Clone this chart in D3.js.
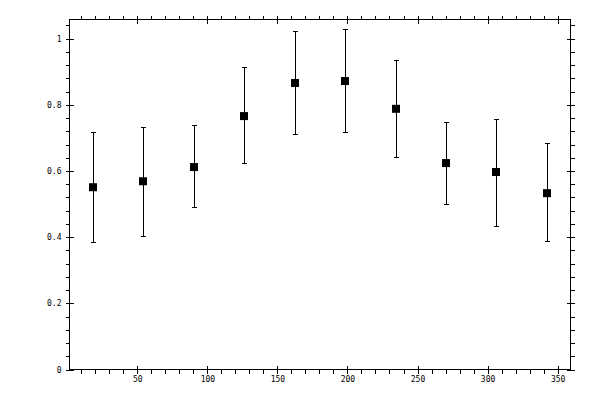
<!DOCTYPE html>
<html>
<head>
<meta charset="utf-8">
<script src="https://cdn.jsdelivr.net/npm/d3@7"></script>
<style>
  body { margin: 0; background: #fff; }
  .tick text { font-family: "DejaVu Sans Mono", monospace; font-size: 8px; fill: #000; }
</style>
</head>
<body>
<div id="chart"></div>
<script>
// Data
let xValues = [18, 54, 90, 126, 162, 198, 234, 270, 306, 342];
let yValues = [0.551, 0.569, 0.612, 0.766, 0.866, 0.872, 0.788, 0.624, 0.597, 0.533];
let yHigh = [0.717, 0.733, 0.737, 0.912, 1.021, 1.027, 0.933, 0.748, 0.757, 0.682];
let yLow = [0.385, 0.403, 0.491, 0.624, 0.709, 0.715, 0.640, 0.500, 0.433, 0.388];

let xMajor = [50, 100, 150, 200, 250, 300, 350];
let yMajor = [0, 0.2, 0.4, 0.6, 0.8, 1];
let yTickLabels = ['0', '0.2', '0.4', '0.6', '0.8', '1'];

// minor ticks every 10 on x, every 0.04 on y
let xMinor = d3.range(10, 360, 10).filter(v => v % 50 !== 0);
let yMinor = d3.range(1, 27).map(i => +(i * 0.04).toFixed(2)).filter(v => Math.abs(v * 5 - Math.round(v * 5)) > 1e-6);

// Set up SVG
let svgWidth = 600;
let svgHeight = 400;

let margin = { top: 19.5, right: 29.5, bottom: 30.5, left: 69.5 };
let width = svgWidth - margin.left - margin.right;
let height = svgHeight - margin.top - margin.bottom;

let svg = d3.select('#chart').append('svg')
  .attr('width', svgWidth)
  .attr('height', svgHeight);

let chartGroup = svg.append('g')
  .attr('transform', `translate(${margin.left}, ${margin.top})`);

// scales
let xScale = d3.scaleLinear().domain([1.6, 359.2]).range([0, width]);
let yScale = d3.scaleLinear().domain([0, 1.058]).range([height, 0]);

// frame
chartGroup.append('rect')
  .attr('width', width)
  .attr('height', height)
  .attr('fill', 'none')
  .attr('stroke', '#000')
  .attr('stroke-width', 1);

function styleAxis(g) {
  g.select('.domain').remove();
  g.selectAll('.tick line').attr('stroke', '#000').attr('shape-rendering', 'crispEdges');
}

let yLabel = d => yTickLabels[yMajor.indexOf(d)];

// bottom axis: outward ticks with labels, inward majors
chartGroup.append('g')
  .attr('transform', `translate(0, ${height})`)
  .call(d3.axisBottom(xScale).tickValues(xMajor.concat(xMinor)).tickSize(4).tickPadding(3)
    .tickFormat(d => xMajor.includes(d) ? d : ''))
  .call(styleAxis);
chartGroup.append('g')
  .attr('transform', `translate(0, ${height})`)
  .call(d3.axisTop(xScale).tickValues(xMajor).tickSize(4).tickFormat(''))
  .call(styleAxis);

// top axis
chartGroup.append('g')
  .call(d3.axisTop(xScale).tickValues(xMajor.concat(xMinor)).tickSize(4).tickFormat(''))
  .call(styleAxis);
chartGroup.append('g')
  .call(d3.axisBottom(xScale).tickValues(xMajor).tickSize(4).tickFormat(''))
  .call(styleAxis);

// left axis
chartGroup.append('g')
  .call(d3.axisLeft(yScale).tickValues(yMajor.concat(yMinor)).tickSize(4).tickPadding(4)
    .tickFormat(d => yMajor.includes(d) ? yLabel(d) : ''))
  .call(styleAxis);
chartGroup.append('g')
  .call(d3.axisRight(yScale).tickValues(yMajor).tickSize(4).tickFormat(''))
  .call(styleAxis);

// right axis
chartGroup.append('g')
  .attr('transform', `translate(${width}, 0)`)
  .call(d3.axisRight(yScale).tickValues(yMajor.concat(yMinor)).tickSize(4).tickFormat(''))
  .call(styleAxis);
chartGroup.append('g')
  .attr('transform', `translate(${width}, 0)`)
  .call(d3.axisLeft(yScale).tickValues(yMajor).tickSize(4).tickFormat(''))
  .call(styleAxis);

// error bars
let points = xValues.map((x, i) => ({ x: x, y: yValues[i], hi: yHigh[i], lo: yLow[i] }));
let capHalf = 2.5;

let bars = chartGroup.selectAll('.errbar')
  .data(points)
  .enter()
  .append('g')
  .classed('errbar', true)
  .attr('stroke', '#000')
  .attr('stroke-width', 1)
  .attr('shape-rendering', 'crispEdges');

bars.append('line')
  .attr('x1', d => Math.round(xScale(d.x)) + 0.5)
  .attr('x2', d => Math.round(xScale(d.x)) + 0.5)
  .attr('y1', d => yScale(d.hi))
  .attr('y2', d => yScale(d.lo));

bars.append('line')
  .attr('x1', d => Math.round(xScale(d.x)) + 0.5 - capHalf)
  .attr('x2', d => Math.round(xScale(d.x)) + 0.5 + capHalf)
  .attr('y1', d => yScale(d.hi))
  .attr('y2', d => yScale(d.hi));

bars.append('line')
  .attr('x1', d => Math.round(xScale(d.x)) + 0.5 - capHalf)
  .attr('x2', d => Math.round(xScale(d.x)) + 0.5 + capHalf)
  .attr('y1', d => yScale(d.lo))
  .attr('y2', d => yScale(d.lo));

// square markers
chartGroup.selectAll('.marker')
  .data(points)
  .enter()
  .append('rect')
  .classed('marker', true)
  .attr('x', d => Math.round(xScale(d.x)) + 0.5 - 4)
  .attr('y', d => yScale(d.y) - 4)
  .attr('width', 8)
  .attr('height', 8)
  .attr('fill', '#000');
</script>
</body>
</html>
